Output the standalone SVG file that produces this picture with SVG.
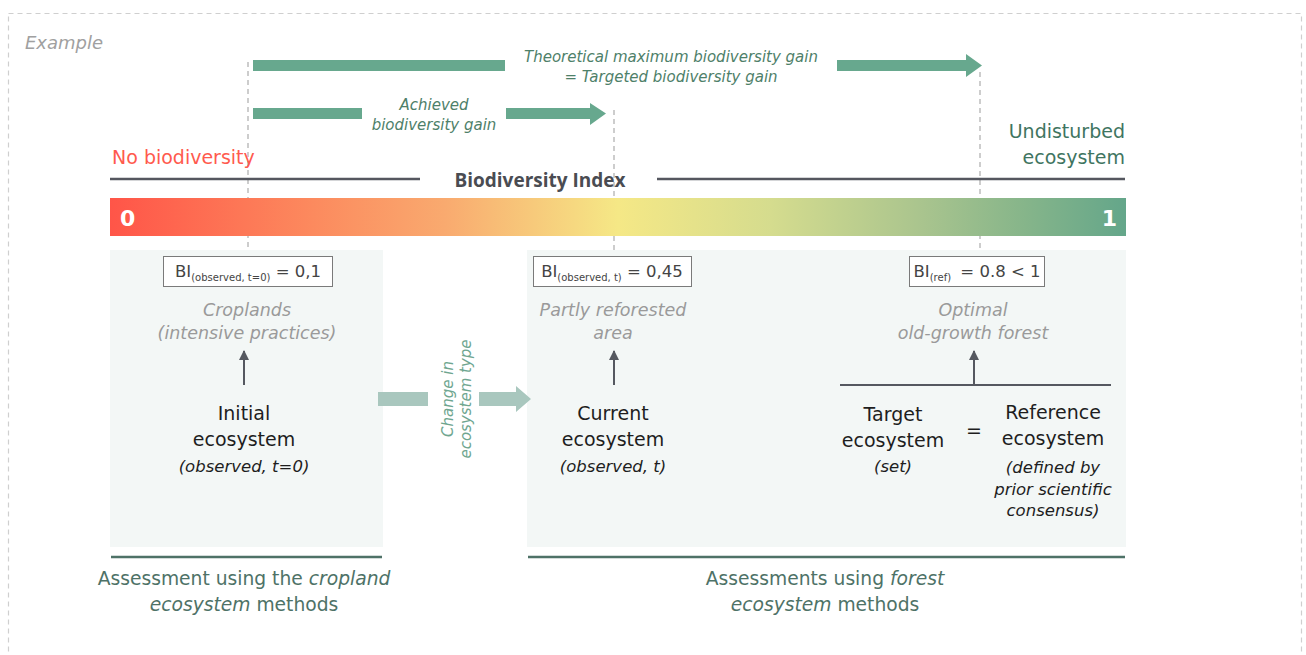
<svg xmlns="http://www.w3.org/2000/svg" width="1306" height="655" viewBox="0 0 1306 655">
<defs>
<linearGradient id="bi" x1="0" y1="0" x2="1" y2="0">
<stop offset="0" stop-color="#FF5548"/>
<stop offset="0.2" stop-color="#FC8A5E"/>
<stop offset="0.33" stop-color="#F9AA6F"/>
<stop offset="0.5" stop-color="#F5E886"/>
<stop offset="0.65" stop-color="#D5DC8E"/>
<stop offset="0.8" stop-color="#A9C48E"/>
<stop offset="0.9" stop-color="#86B58A"/>
<stop offset="1" stop-color="#64A68A"/>
</linearGradient>
<marker id="up" viewBox="0 0 10 10" refX="9" refY="5" markerWidth="11" markerHeight="10" markerUnits="userSpaceOnUse" orient="auto">
<path d="M0,0 L10,5 L0,10 Z" fill="#555860"/>
</marker>
</defs>
<style>
text{font-family:"DejaVu Sans","Open Sans",sans-serif}
.dash{stroke:#BDBDBD;stroke-width:1.5;stroke-dasharray:5 4;fill:none}
.gain{fill:#67A88E}
.gtxt{fill:#4E8069;font-style:italic;font-size:15px;text-anchor:middle}
.axis{stroke:#55575F;stroke-width:2.5}
.panel{fill:#F3F7F6}
.box{fill:#fff;stroke:#7A7A7A;stroke-width:1}
.bi{fill:#444;font-size:16.5px;text-anchor:middle}
.desc{fill:#9A9A9A;font-style:italic;font-size:17.5px;text-anchor:middle}
.eco{fill:#1E1E1E;font-size:19px;text-anchor:middle}
.ecoi{fill:#1E1E1E;font-style:italic;font-size:16.5px;text-anchor:middle}
.conn{stroke:#555860;stroke-width:2;fill:none}
.under{stroke:#4E7267;stroke-width:2.5}
.asmt{fill:#4E7267;font-size:18.7px;text-anchor:middle}
.chg{fill:#A9C7BE}
.rot{fill:#6FA690;font-style:italic;font-size:15px;text-anchor:middle}
</style>
<rect x="8.5" y="13.5" width="1293" height="700" fill="none" stroke="#CFCFCF" stroke-width="1.2" stroke-dasharray="5 4"/>
<text x="25" y="49" font-size="18" font-style="italic" fill="#A0A0A0">Example</text>

<g id="guides">
<line class="dash" x1="248" y1="62" x2="248" y2="256"/>
<line class="dash" x1="614" y1="110" x2="614" y2="256"/>
<line class="dash" x1="980" y1="72" x2="980" y2="256"/>
</g>

<g id="gain-arrows">
<rect class="gain" x="253" y="60" width="252" height="11"/>
<path class="gain" d="M837,60 H966 V54 L982,65.5 L966,77 V71 H837 Z"/>
<text class="gtxt" x="671" y="62">Theoretical maximum biodiversity gain</text>
<text class="gtxt" x="671" y="82">= Targeted biodiversity gain</text>
<rect class="gain" x="253" y="108" width="109" height="11"/>
<path class="gain" d="M506,108 H590 V103 L606,113.5 L590,125 V119 H506 Z"/>
<text class="gtxt" x="434" y="110">Achieved</text>
<text class="gtxt" x="434" y="130">biodiversity gain</text>
</g>

<g id="index">
<text x="112" y="164" font-size="19" fill="#FF5A4E">No biodiversity</text>
<text x="1125" y="138" font-size="19" fill="#3F7561" text-anchor="end">Undisturbed</text>
<text x="1125" y="164" font-size="19" fill="#3F7561" text-anchor="end">ecosystem</text>
<line class="axis" x1="110" y1="179" x2="420" y2="179"/>
<line class="axis" x1="657" y1="179" x2="1125" y2="179"/>
<text x="540" y="187" font-size="19" font-weight="bold" fill="#4A4C52" text-anchor="middle" style="font-family:'Open Sans','DejaVu Sans',sans-serif">Biodiversity Index</text>
<rect x="110" y="198" width="1016" height="38" fill="url(#bi)"/>
<text x="120" y="226" font-size="22" font-weight="bold" fill="#fff">0</text>
<text x="1117" y="226" font-size="22" font-weight="bold" fill="#fff" text-anchor="end">1</text>
</g>

<g id="panel-cropland">
<rect class="panel" x="110" y="250" width="273" height="297"/>
<line class="under" x1="111" y1="557" x2="382" y2="557"/>
<text class="asmt" x="244" y="585">Assessment using the <tspan font-style="italic">cropland</tspan></text>
<text class="asmt" x="244" y="611"><tspan font-style="italic">ecosystem</tspan> methods</text>
</g>

<g id="panel-forest">
<rect class="panel" x="527" y="250" width="599" height="297"/>
<line class="under" x1="528" y1="557" x2="1125" y2="557"/>
<text class="asmt" x="825" y="585">Assessments using <tspan font-style="italic">forest</tspan></text>
<text class="asmt" x="825" y="611"><tspan font-style="italic">ecosystem</tspan> methods</text>
</g>

<g id="node-initial">
<rect class="box" x="163.5" y="256.5" width="169" height="30"/>
<text class="bi" x="248" y="277">BI<tspan font-size="10" dy="4">(observed, t=0)</tspan><tspan dy="-4"> = 0,1</tspan></text>
<text class="desc" x="247" y="316">Croplands</text>
<text class="desc" x="247" y="339">(intensive practices)</text>
<text class="eco" x="244" y="420">Initial</text>
<text class="eco" x="244" y="446">ecosystem</text>
<text class="ecoi" x="244" y="472">(observed, t=0)</text>
</g>

<g id="node-current">
<rect class="box" x="533.5" y="256.5" width="158" height="30"/>
<text class="bi" x="612" y="277">BI<tspan font-size="10" dy="4">(observed, t)</tspan><tspan dy="-4"> = 0,45</tspan></text>
<text class="desc" x="613" y="316">Partly reforested</text>
<text class="desc" x="613" y="339">area</text>
<text class="eco" x="613" y="420">Current</text>
<text class="eco" x="613" y="446">ecosystem</text>
<text class="ecoi" x="613" y="472">(observed, t)</text>
</g>

<g id="node-target">
<rect class="box" x="909.5" y="256.5" width="135" height="30"/>
<text class="bi" x="977" y="277">BI<tspan font-size="10" dy="4">(ref)</tspan><tspan dy="-4" dx="4"> = 0.8 &lt; 1</tspan></text>
<text class="desc" x="973" y="316">Optimal</text>
<text class="desc" x="973" y="339">old-growth forest</text>
<line class="conn" x1="840" y1="385" x2="1111" y2="385" stroke-width="2.5"/>
<text class="eco" x="893" y="421">Target</text>
<text class="eco" x="893" y="447">ecosystem</text>
<text class="ecoi" x="893" y="472">(set)</text>
<text class="eco" x="974" y="437">=</text>
<text class="eco" x="1053" y="419">Reference</text>
<text class="eco" x="1053" y="445">ecosystem</text>
<text class="ecoi" x="1053" y="473">(defined by</text>
<text class="ecoi" x="1053" y="495">prior scientific</text>
<text class="ecoi" x="1053" y="516">consensus)</text>
</g>

<g id="connectors">
<line class="conn" x1="244" y1="385" x2="244" y2="351" marker-end="url(#up)"/>
<line class="conn" x1="614" y1="385" x2="614" y2="351" marker-end="url(#up)"/>
<line class="conn" x1="974" y1="385" x2="974" y2="351" marker-end="url(#up)"/>
<rect class="chg" x="378" y="392" width="50" height="14"/>
<path class="chg" d="M479,392 H516 V386 L531,399 L516,412 V406 H479 Z"/>
<text class="rot" transform="translate(453,399) rotate(-90)">Change in</text>
<text class="rot" transform="translate(471,399) rotate(-90)">ecosystem type</text>
</g>
</svg>
